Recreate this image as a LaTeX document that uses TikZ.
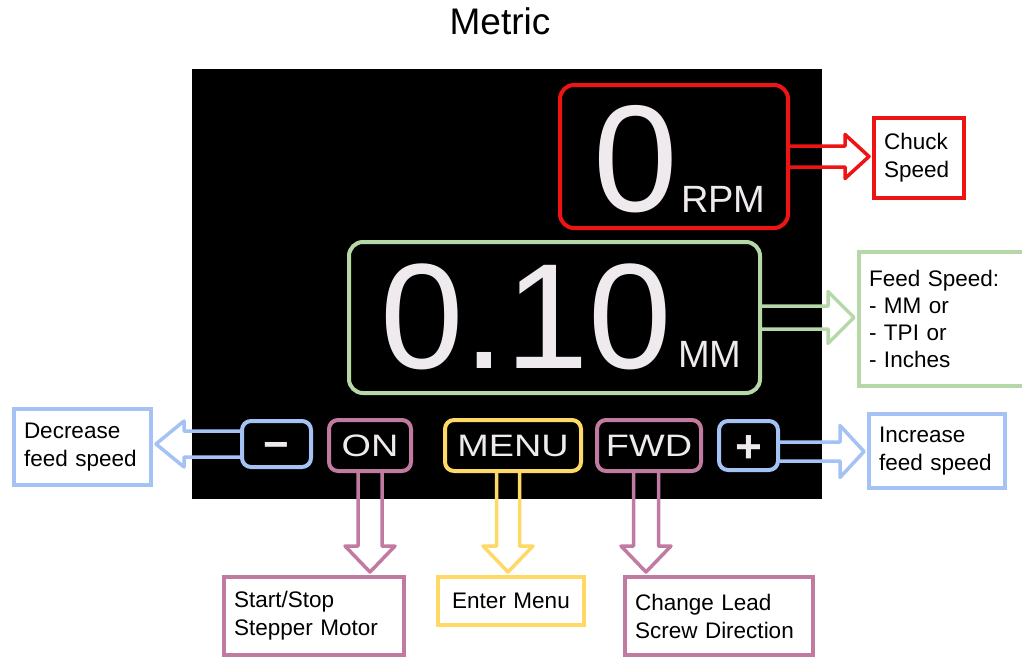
\documentclass[tikz,border=0pt]{standalone}
\usepackage{fontspec}
\usepackage{graphicx}
\setmainfont{Liberation Sans}
\usetikzlibrary{calc}
\definecolor{cred}{HTML}{EE1414}
\definecolor{cgreen}{HTML}{B6D7A8}
\definecolor{cblue}{HTML}{A4C2F4}
\definecolor{cpink}{HTML}{C27BA0}
\definecolor{cyellow}{HTML}{FFD966}
\definecolor{scrtxt}{HTML}{EEEAEE}
\newcommand\labfont{\fontsize{22.5}{28}\selectfont}
\newcommand\btnfont{\fontsize{31}{31}\selectfont}
\newcommand\btn[1]{\scalebox{1.22}[1]{#1}}
\newcommand\harrow[6]{%
  \draw[blk=#6] ($(#1)+(0,#3)$) -- ($(#2)+({-1*(#5)},#3)$) -- ($(#2)+({-1*(#5)},#4)$) -- (#2)
    -- ($(#2)+({-1*(#5)},-#4)$) -- ($(#2)+({-1*(#5)},-#3)$) -- ($(#1)+(0,-#3)$);}
\newcommand\varrow[6]{%
  \draw[blk=#6] ($(#1)+(#3,0)$) -- ($(#2)+(#3,{-1*(#5)})$) -- ($(#2)+(#4,{-1*(#5)})$) -- (#2)
    -- ($(#2)+(-#4,{-1*(#5)})$) -- ($(#2)+(-#3,{-1*(#5)})$) -- ($(#1)+(-#3,0)$);}
\tikzset{
  scr/.style={draw=#1, line width=4pt, rounded corners=14pt, inner sep=0pt, text=scrtxt, font=\btnfont},
  lab/.style={draw=#1, line width=4pt, fill=white, inner xsep=10pt, inner ysep=0pt, align=left, font=\labfont, text=black},
  blk/.style={draw=#1, line width=3.5pt, line join=round},
  big/.style={text=scrtxt, inner sep=0pt, anchor=base west},
}
\begin{document}
\begin{tikzpicture}[x=1pt, y=-1pt]
\path[use as bounding box, clip] (0,0) rectangle (1022,659);
\fill[white] (0,0) rectangle (1022,659);
% title
\node[font=\fontsize{37}{40}\selectfont] (title) at (500,21.5) {Metric};
% screen
\fill[black] (192,69) rectangle (822,499);
% screen boxes
\node[scr=cred, minimum width=228pt, minimum height=143pt] (rpm) at (674,156.5) {};
\node[scr=cgreen, minimum width=411pt, minimum height=151pt] (feed) at (554.5,317.5) {};
\node[scr=cblue, rounded corners=9pt, minimum width=69pt, minimum height=46pt, font=\fontsize{44}{44}\bfseries] (minus) at (276.5,444) {\raisebox{-15pt}[0pt][0pt]{−}};
\node[scr=cpink, rounded corners=9pt, minimum width=82pt, minimum height=51pt] (on) at (370,445.5) {\btn{ON}};
\node[scr=cyellow, rounded corners=9pt, minimum width=136pt, minimum height=51pt] (menu) at (513,445.5) {\btn{MENU}};
\node[scr=cpink, rounded corners=9pt, minimum width=104pt, minimum height=51pt] (fwd) at (649,445.5) {\btn{FWD}};
\node[scr=cblue, rounded corners=9pt, minimum width=59pt, minimum height=49pt, font=\fontsize{46}{46}\bfseries] (plus) at (748.5,445.5) {\raisebox{-17pt}[0pt][0pt]{+}};
% big readouts
\node[big, font=\fontsize{152}{152}\selectfont] (zero) at (593,211) {0};
\node[big, font=\fontsize{38}{38}\selectfont] (rpmu) at (681,212) {RPM};
\node[big, font=\fontsize{150}{150}\selectfont] (val) at (380,368) {0.10};
\node[big, font=\fontsize{38}{38}\selectfont] (mmu) at (678,367) {MM};
% labels
\node[lab=cred, text width=70pt, minimum height=80pt] (chuck) at (919,158) {Chuck\\Speed};
\node[lab=cgreen, text width=155pt, minimum height=134pt, font=\fontsize{22.5}{27}\selectfont] (feedlab) at (946.5,319) {Feed Speed:\\- MM or\\- TPI or\\- Inches};
\node[lab=cblue, text width=117pt, minimum height=76pt] (dec) at (82.5,447) {Decrease\\feed speed};
\node[lab=cblue, text width=116pt, minimum height=74pt] (inc) at (937,451) {Increase\\feed speed};
\node[lab=cpink, text width=160pt, minimum height=78pt] (startstop) at (314,616) {Start/Stop\\Stepper Motor};
\node[lab=cyellow, text width=126pt, minimum height=48pt, align=center] (entermenu) at (511,601) {Enter Menu};
\node[lab=cpink, text width=168pt, minimum height=78pt] (change) at (719,616) {Change Lead\\Screw Direction};
% arrow end points
\coordinate (t1) at ($(rpm.east -| chuck.west)+(-3,0)$);
\coordinate (t2) at ($(feed.east -| feedlab.west)+(-3,0)$);
\coordinate (t3) at ($(minus.west -| dec.east)+(3,0)$);
\coordinate (ps) at ($(plus.east)+(0,6)$);
\coordinate (t4) at ($(ps -| inc.west)+(-3,0)$);
\coordinate (os) at (on.south);
\coordinate (t5) at ($(os |- startstop.north)+(0,-3)$);
\coordinate (ms) at ($(menu.south)+(-5,0)$);
\coordinate (t6) at ($(ms |- entermenu.north)+(0,-3)$);
\coordinate (fs) at ($(fwd.south)+(-3,0)$);
\coordinate (t7) at ($(fs |- change.north)+(0,-3)$);
% block arrows
\harrow{rpm.east}{t1}{10.5}{22}{24}{cred}
\harrow{feed.east}{t2}{11.5}{26}{26}{cgreen}
\harrow{minus.west}{t3}{13}{23}{-28}{cblue}
\harrow{ps}{t4}{9.5}{26}{24}{cblue}
\varrow{os}{t5}{12}{25}{26}{cpink}
\varrow{ms}{t6}{11.5}{25}{26}{cyellow}
\varrow{fs}{t7}{12.5}{25}{26}{cpink}
\end{tikzpicture}
\end{document}
